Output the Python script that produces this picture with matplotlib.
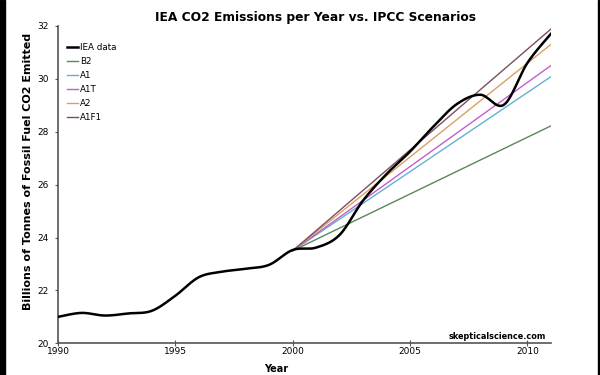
import numpy as np
import matplotlib.pyplot as plt
from matplotlib.patches import Rectangle

# IEA yearly emissions (billions of tonnes CO2)
years = [1990, 1991, 1992, 1993, 1994, 1995, 1996, 1997, 1998, 1999, 2000,
         2001, 2002, 2003, 2004, 2005, 2006, 2007, 2008, 2009, 2010, 2011]
iea = [21.0, 21.15, 21.05, 21.13, 21.23, 21.8, 22.5, 22.71, 22.82, 22.97, 23.53,
       23.62, 24.1, 25.4, 26.4, 27.25, 28.2, 29.05, 29.4, 29.02, 30.6, 31.7]

# IPCC scenarios, straight lines 2000 -> 2011
scen_years = [2000, 2011]
scen_names = ['B2', 'A1', 'A1T', 'A2', 'A1F1']
scen_vals = {
    'B2': [23.5, 28.22],
    'A1': [23.5, 30.08],
    'A1T': [23.5, 30.5],
    'A2': [23.5, 31.3],
    'A1F1': [23.5, 31.88],
}
scen_colors = {
    'B2': '#5a875a',
    'A1': '#62b2cf',
    'A1T': '#c35ec9',
    'A2': '#d9a064',
    'A1F1': '#7b4f5f',
}


def smooth(x, y, n=30):
    # excel-like smoothed line (catmull-rom bezier)
    x = np.asarray(x, float)
    y = np.asarray(y, float)
    px = np.concatenate([[x[0]], x, [x[-1]]])
    py = np.concatenate([[y[0]], y, [y[-1]]])
    xs, ys = [], []
    t = np.linspace(0, 1, n)
    for i in range(1, len(px) - 2):
        p0 = np.array([px[i], py[i]])
        p3 = np.array([px[i + 1], py[i + 1]])
        p1 = p0 + (np.array([px[i + 1], py[i + 1]]) - np.array([px[i - 1], py[i - 1]])) / 6
        p2 = p3 - (np.array([px[i + 2], py[i + 2]]) - np.array([px[i], py[i]])) / 6
        b = ((1 - t) ** 3)[:, None] * p0 + (3 * (1 - t) ** 2 * t)[:, None] * p1 \
            + (3 * (1 - t) * t ** 2)[:, None] * p2 + (t ** 3)[:, None] * p3
        xs.extend(b[:, 0])
        ys.extend(b[:, 1])
    return xs, ys


plt.rcParams['font.family'] = 'DejaVu Sans'
fig = plt.figure(figsize=(6, 3.75), dpi=100)
ax = fig.add_axes([0.0967, 0.0845, 0.8213, 0.8462])

sx, sy = smooth(years, iea)
ax.plot(sx, sy, color='black', lw=1.8, label='IEA data', zorder=5)
for name in scen_names:
    ax.plot(scen_years, scen_vals[name], color=scen_colors[name], lw=1.0, label=name)

ax.set_xlim(1990, 2011)
ax.set_ylim(20, 32)
ax.set_xticks([1990, 1995, 2000, 2005, 2010])
ax.set_yticks([20, 22, 24, 26, 28, 30, 32])
ax.tick_params(axis='both', labelsize=6.5, colors='#555555', labelcolor='black', width=0.8)
ax.tick_params(axis='x', direction='inout', length=4, pad=1)
ax.tick_params(axis='y', direction='out', length=2.5, pad=4)
for s in ['top', 'right']:
    ax.spines[s].set_visible(False)
for s in ['left', 'bottom']:
    ax.spines[s].set_color('#555555')
    ax.spines[s].set_linewidth(1.2)

fig.text(0.526, 0.953, 'IEA CO2 Emissions per Year vs. IPCC Scenarios',
         ha='center', va='center', fontsize=8.8, fontweight='bold')
fig.text(0.046, 0.544, 'Billions of Tonnes of Fossil Fuel CO2 Emitted', rotation=90,
         ha='center', va='center', fontsize=8, fontweight='bold')
fig.text(0.46, 0.015, 'Year', ha='center', va='center', fontsize=7, fontweight='bold')
fig.text(0.91, 0.102, 'skepticalscience.com', ha='right', va='center',
         fontsize=5.9, fontweight='bold')

ax.legend(loc='upper left', bbox_to_anchor=(0.012, 0.958), frameon=False,
          fontsize=6.3, handlelength=1.25, handletextpad=0.2, labelspacing=0.57,
          borderaxespad=0)

# black frame strips at the edges
fig.patches.append(Rectangle((0, 0), 0.008, 1, transform=fig.transFigure,
                             color='black', zorder=10))
fig.patches.append(Rectangle((0.997, 0), 0.003, 1, transform=fig.transFigure,
                             color='black', zorder=10))

fig.savefig('out.png', dpi=100)
